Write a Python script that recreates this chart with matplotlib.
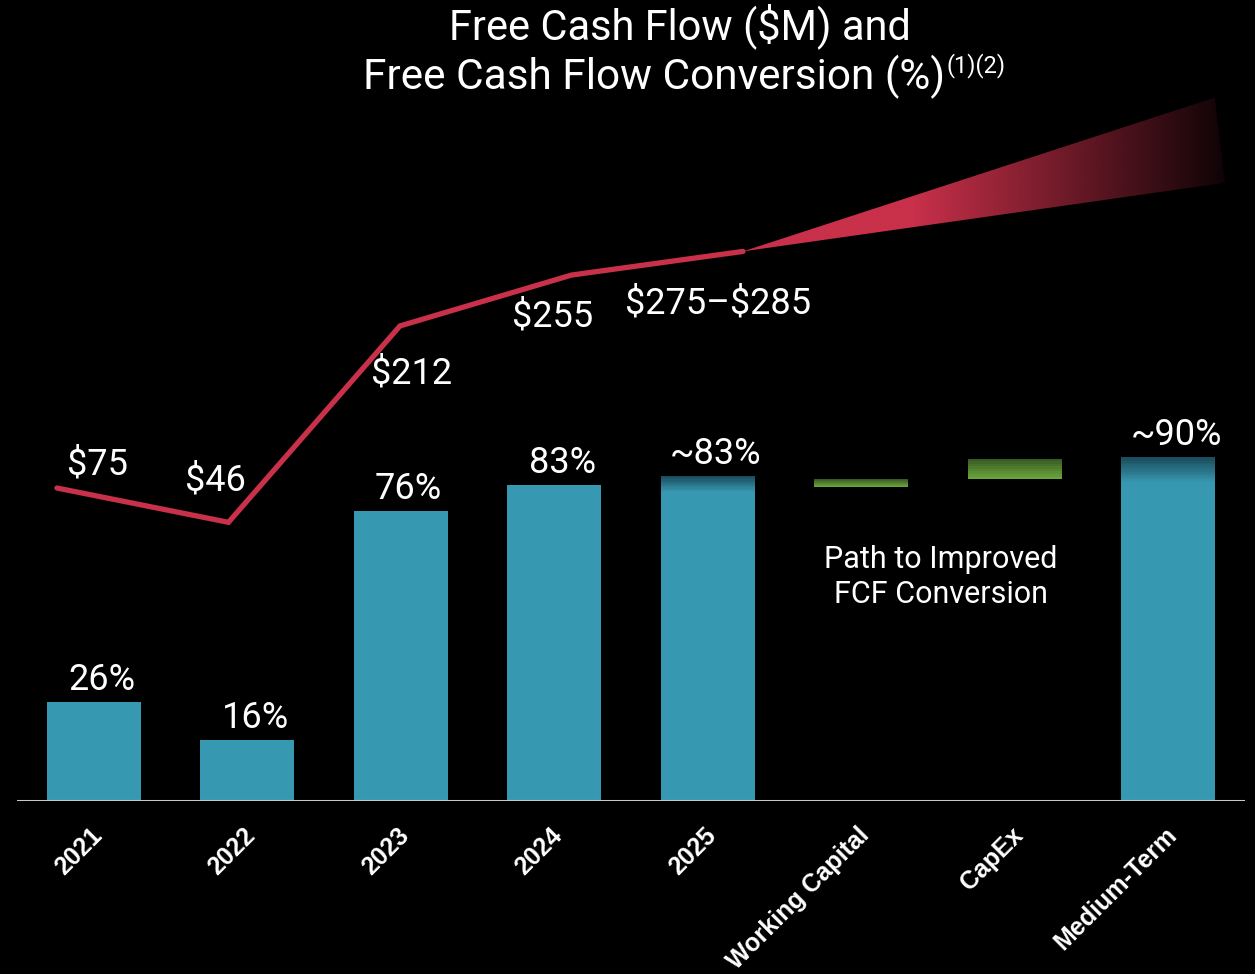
import numpy as np
import matplotlib.pyplot as plt
from matplotlib.colors import to_rgb
from matplotlib.patches import Polygon

# ---- data ----
categories = ["2021", "2022", "2023", "2024", "2025",
              "Working Capital", "CapEx", "Medium-Term"]
bar_pos = [0, 1, 2, 3, 4, 7]
conv_height = [26, 16, 76, 83, 85.3, 90.3]          # drawn bar tops (%)
conv_fade_from = [None, None, None, None, 81.1, 83.5]  # where the faded cap starts
conv_labels = ["26%", "16%", "76%", "83%", "~83%", "~90%"]

bridge_pos = [5, 6]
bridge_low = [82.4, 84.5]
bridge_high = [84.5, 89.8]

fcf_years = [0, 1, 2, 3, 4]
fcf_values = [75, 46, 212, 255, 275]
fcf_labels = [r"\$75", r"\$46", r"\$212", r"\$255", "\\$275\u2013\\$285"]
fcf_label_offsets = [(41, 23), (-13, 42), (12, -48), (-19, -41), (-25, -52)]

fan_x = [4, 6.75, 6.81]
fan_y = [275, 405, 333]

TEAL = "#3799B1"
TEAL_DARK = "#1A4A5A"
GREEN = "#6CAA3B"
GREEN_DARK = "#375624"
RED = "#C9304A"
TXT_FONT = ["Roboto", "DejaVu Sans"]

W, H = 1255, 974
fig = plt.figure(figsize=(W / 100, H / 100), dpi=100, facecolor="black")
box = [17 / W, (H - 801) / H, 1228 / W, 711 / H]

ax = fig.add_axes(box)
ax.set_facecolor("black")
ax.set_xlim(-0.5, 7.5)
ax.set_ylim(0, 711 / 3.81)
for s in ax.spines.values():
    s.set_visible(False)
ax.axhline(0, color="#C8C8C8", lw=2.2, zorder=5)
ax.set_xticks([])
ax.set_yticks([])


def fade_bar(x, y0, y1, c_bot, c_top, n=14):
    edges = np.linspace(y0, y1, n + 1)
    cb, ct = np.array(to_rgb(c_bot)), np.array(to_rgb(c_top))
    for k in range(n):
        t = (k + 0.5) / n
        ax.bar(x, edges[k + 1] - edges[k], bottom=edges[k], width=0.61,
               color=cb * (1 - t) + ct * t, linewidth=0)


for x, h, f, lab in zip(bar_pos, conv_height, conv_fade_from, conv_labels):
    if f is None:
        ax.bar(x, h, width=0.61, color=TEAL, linewidth=0)
    else:
        ax.bar(x, f, width=0.61, color=TEAL, linewidth=0)
        fade_bar(x, f, h, TEAL, TEAL_DARK)
    ax.annotate(lab, (x, h), xytext=(8, 4), textcoords="offset pixels",
                ha="center", va="bottom", color="white", fontsize=26,
                family=TXT_FONT)

for x, lo, hi in zip(bridge_pos, bridge_low, bridge_high):
    fade_bar(x, lo, hi, GREEN, GREEN_DARK, n=8)

ax.text(5.52, 58.8, "Path to Improved\nFCF Conversion", ha="center",
        va="center", color="white", fontsize=22, family=TXT_FONT,
        linespacing=1.3)

for i, lab in enumerate(categories):
    ax.annotate(lab, (i, 0), xycoords=("data", "axes fraction"),
                xytext=(-4, -22), textcoords="offset pixels",
                rotation=45, rotation_mode="anchor", ha="right", va="top",
                color="white", fontsize=18, fontweight="bold",
                family=["Liberation Sans", "DejaVu Sans"])

# ---- FCF line on its own x scale ----
ax2 = fig.add_axes(box, facecolor="none")
ax2.set_xlim(-0.233, 6.927)
ax2.set_ylim(75 - 313 / 1.183, 75 + 398 / 1.183)
ax2.axis("off")

poly = Polygon(np.column_stack([fan_x, fan_y]), closed=True,
               facecolor="none", edgecolor="none")
ax2.add_patch(poly)
gx = np.linspace(fan_x[0], max(fan_x), 300)
alpha = np.clip(1 - (gx - 5.0) / (max(fan_x) - 5.0), 0, 1) * 0.92 + 0.08
alpha[gx < 5.0] = 1
grad = np.zeros((2, gx.size, 4))
grad[..., :3] = to_rgb(RED)
grad[..., 3] = alpha
im = ax2.imshow(grad, extent=[fan_x[0], max(fan_x), min(fan_y), max(fan_y)],
                aspect="auto", origin="lower", interpolation="bilinear")
im.set_clip_path(poly)

ax2.plot(fcf_years, fcf_values, color=RED, lw=3.8, solid_joinstyle="miter",
         solid_capstyle="round")
for x, v, lab, off in zip(fcf_years, fcf_values, fcf_labels, fcf_label_offsets):
    ax2.annotate(lab, (x, v), xytext=off, textcoords="offset pixels",
                 ha="center", va="center", color="white", fontsize=26,
                 family=TXT_FONT)

# ---- title ----
fig.text(680 / W, 1 - 26 / H, "Free Cash Flow ($M) and", ha="center",
         va="center", color="white", fontsize=30, family=TXT_FONT)
fig.text(945 / W, 1 - 77 / H, "Free Cash Flow Conversion (%)", ha="right",
         va="center", color="white", fontsize=30.5, family=TXT_FONT)
fig.text(946 / W, 1 - 66 / H, "(1)(2)", ha="left", va="center",
         color="white", fontsize=17, family=TXT_FONT)

fig.savefig("out.png", dpi=100, facecolor="black")
